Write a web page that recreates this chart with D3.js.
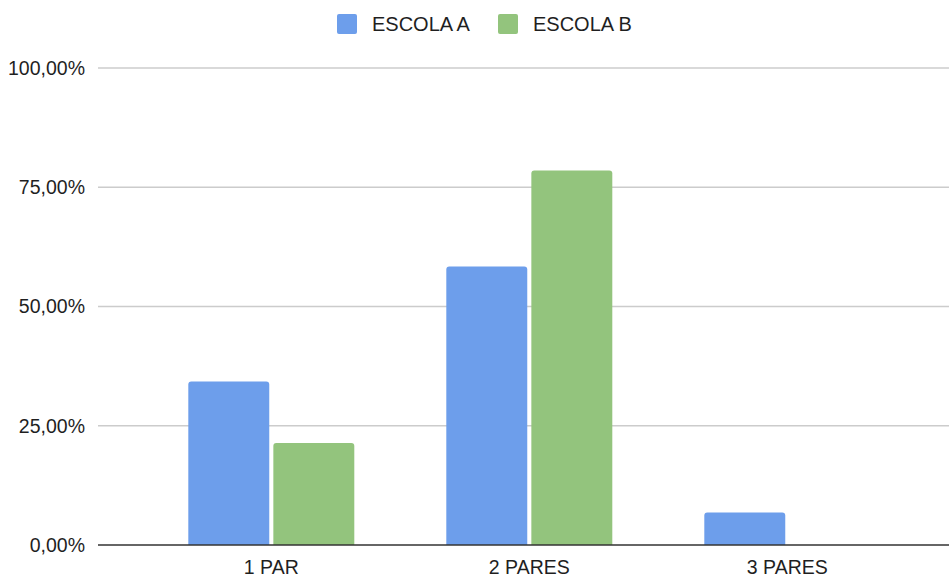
<!DOCTYPE html>
<html><head><meta charset="utf-8">
<script src="https://cdn.jsdelivr.net/npm/d3@7"></script>
<style>html,body{margin:0;padding:0;background:#fff;}svg{display:block;font-family:"Liberation Sans",Arial,sans-serif;}</style>
</head><body><svg id="c" width="949" height="576"></svg>
<script>
const categories = ["1 PAR", "2 PARES", "3 PARES"];
const seriesNames = ["ESCOLA A", "ESCOLA B"];
const escolaA = [34.3, 58.4, 6.8];
const escolaB = [21.4, 78.5, 0];
const yTicks = [0, 25, 50, 75, 100];
const colors = ["#6d9eeb", "#93c47d"];

(function () {
const svg = d3.select("#c");
const plotLeft = 98, plotRight = 949, plotTop = 68, plotBottom = 545;

const y = d3.scaleLinear().domain([0, 100]).range([plotBottom, plotTop]);
const x0 = d3.scaleBand().domain(categories).range([142.3, 916.3]).paddingInner(0.3566).paddingOuter(0.1783);
const x1 = d3.scaleBand().domain(seriesNames).range([0, x0.bandwidth()]).paddingInner(0.048);
const color = d3.scaleOrdinal().domain(seriesNames).range(colors);
const fmt = v => d3.format(".2f")(v).replace(".", ",") + "%";

// gridlines
svg.append("g").selectAll("line").data(yTicks.filter(t => t > 0)).join("line")
  .attr("x1", plotLeft).attr("x2", plotRight)
  .attr("y1", d => y(d)).attr("y2", d => y(d))
  .attr("stroke", "#cccccc").attr("stroke-width", 1.3);

// y labels
svg.append("g").selectAll("text").data(yTicks).join("text")
  .attr("x", 85).attr("y", d => y(d)).attr("dy", "0.35em")
  .attr("text-anchor", "end").attr("font-size", 19.5).attr("fill", "#1f1f1f")
  .text(fmt);

// bars
const data = categories.map((c, i) => ({cat: c, vals: [
  {s: seriesNames[0], v: escolaA[i]}, {s: seriesNames[1], v: escolaB[i]}]}));
const r = 3;
function barPath(x, yTop, w, yBot) {
  const h = yBot - yTop;
  if (h <= 0) return "";
  const rr = Math.min(r, h, w / 2);
  return `M${x},${yBot}V${yTop + rr}Q${x},${yTop} ${x + rr},${yTop}H${x + w - rr}Q${x + w},${yTop} ${x + w},${yTop + rr}V${yBot}Z`;
}
svg.append("g").selectAll("g").data(data).join("g")
  .attr("transform", d => `translate(${x0(d.cat)},0)`)
  .selectAll("path").data(d => d.vals.filter(v => v.v > 0)).join("path")
  .attr("d", d => barPath(x1(d.s), y(d.v), x1.bandwidth(), y(0)))
  .attr("fill", d => color(d.s));

// baseline
svg.append("line").attr("x1", plotLeft).attr("x2", plotRight).attr("y1", y(0)).attr("y2", y(0))
  .attr("stroke", "#333").attr("stroke-width", 1.5);

// x labels
svg.append("g").selectAll("text").data(categories).join("text")
  .attr("x", d => x0(d) + x0.bandwidth() / 2).attr("y", 574)
  .attr("text-anchor", "middle").attr("font-size", 19.5).attr("fill", "#1f1f1f")
  .text(d => d);

// legend
const legX = [337, 498];
const lg = svg.append("g").selectAll("g").data(seriesNames).join("g")
  .attr("transform", (d, i) => `translate(${legX[i]},14)`);
lg.append("rect").attr("width", 20).attr("height", 20).attr("rx", 2).attr("fill", d => color(d));
lg.append("text").attr("x", 35).attr("y", 10).attr("dy", "0.35em")
  .attr("font-size", 20).attr("fill", "#1f1f1f").text(d => d);
})();
</script>
</body></html>
